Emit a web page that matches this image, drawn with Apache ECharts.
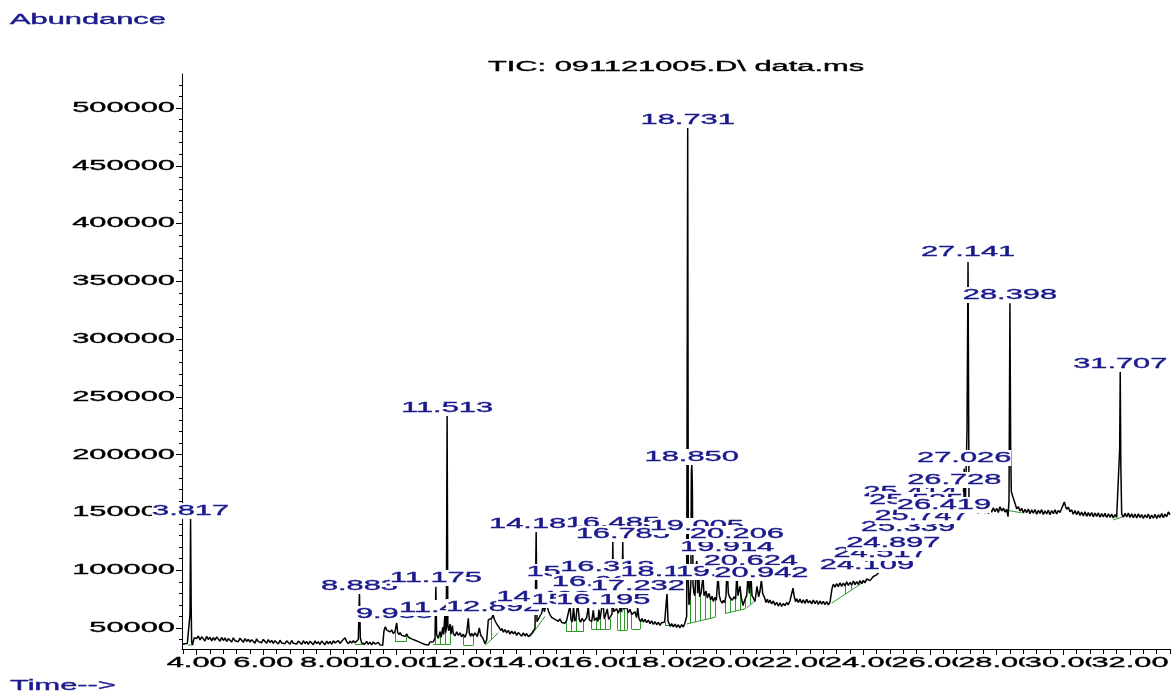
<!DOCTYPE html>
<html>
<head>
<meta charset="utf-8">
<script src="https://cdn.jsdelivr.net/npm/echarts@6/dist/echarts.min.js"></script>
<style>html,body{margin:0;padding:0;background:#fff}#chart{width:1175px;height:691px}</style>
</head>
<body>
<div id="chart"></div>
<script>
// ---------------- DATA ----------------
const titleText = 'TIC: 091121005.D\\ data.ms';
const yAxisName = 'Abundance';
const xAxisName = 'Time-->';

const xTickValues = [4, 6, 8, 10, 12, 14, 16, 18, 20, 22, 24, 26, 28, 30, 32];
const xTickLabels = ['4.00', '6.00', '8.00', '10.00', '12.00', '14.00', '16.00', '18.00', '20.00', '22.00', '24.00', '26.00', '28.00', '30.00', '32.00'];
const yTickValues = [50000, 100000, 150000, 200000, 250000, 300000, 350000, 400000, 450000, 500000];
const yTickLabels = ['50000', '100000', '150000', '200000', '250000', '300000', '350000', '400000', '450000', '500000'];

// total ion chromatogram [time (min), abundance]
const traceEarly = [
[3.56,35800],[3.60,34600],[3.64,36400],[3.68,35000],[3.72,36600],[3.76,34900],[3.78,36000],[3.80,62000],[3.817,145200],[3.835,70000],
[3.85,38000],[3.87,35400],[3.90,36800],[3.93,41500],[3.96,43000],
[4.00,40800],[4.05,43100],[4.10,39600],[4.15,42400],[4.20,40900],[4.25,38700],[4.30,42800],[4.35,40100],[4.40,42000],[4.45,38900],
[4.50,41700],[4.55,39400],[4.60,42300],[4.65,40600],[4.70,38500],[4.75,41900],[4.80,39200],[4.85,41400],[4.90,38300],[4.95,40800],
[5.00,39900],[5.05,37800],[5.10,41500],[5.15,39000],[5.20,40700],[5.25,38100],[5.30,41200],[5.35,39500],[5.40,37600],[5.45,40900],
[5.50,38400],[5.55,40200],[5.60,37900],[5.65,39800],[5.70,38800],[5.75,36900],[5.80,40600],[5.85,38200],[5.90,39700],[5.95,37300],
[6.00,40100],[6.05,38600],[6.10,36800],[6.15,39900],[6.20,37500],[6.25,39300],[6.30,36700],[6.35,39000],[6.40,37900],[6.45,36200],
[6.50,39400],[6.55,37100],[6.60,38800],[6.65,36400],[6.70,38900],[6.75,37600],[6.80,35900],[6.85,39200],[6.90,36800],[6.95,38500],
[7.00,36100],[7.05,38700],[7.10,37300],[7.15,35800],[7.20,39000],[7.25,36500],[7.30,38300],[7.35,35900],[7.40,38600],[7.45,37000],
[7.50,35600],[7.55,38900],[7.60,36400],[7.65,38200],[7.70,35700],[7.75,38800],[7.80,37200],[7.85,35500],[7.90,38600],[7.95,36300],
[8.00,38400],[8.05,35900],[8.10,38900],[8.15,37100],[8.20,35800],[8.25,39100],[8.30,36600],[8.35,38500],[8.40,37800],[8.45,41600],
[8.50,38200],[8.55,36400],[8.60,38700],[8.65,36900],[8.70,39000],[8.75,37200],[8.80,38400],[8.85,40000],[8.883,81200],[8.91,41500],
[8.95,37000],[9.00,38600],[9.05,36200],[9.10,38400],[9.15,35900],[9.20,37800],[9.25,35300],[9.30,38000],[9.35,36100],[9.40,34900],
[9.45,37500],[9.50,35400],[9.55,36800],[9.58,35000],[9.62,47600],[9.66,51000],[9.70,48200],[9.75,49600],[9.80,46600],[9.85,48400],
[9.90,45200],[9.95,47100],[10.0,54500],[10.03,46000],[10.07,44200],[10.10,46000],[10.15,43600],[10.20,45300],[10.25,42800],[10.30,44900],
[10.35,42000],[10.40,43500],[10.45,40600],[10.50,42300],[10.55,39400],[10.60,41000],[10.65,38200],[10.70,39800],[10.75,36900],[10.80,38600],
[10.85,35700],[10.90,37400],[10.95,35200],[11.00,37800]
];
const traceMid = [
[11.05,39500],[11.1,38000],[11.15,41200],[11.175,85700],[11.2,44000],[11.25,41000],[11.3,46800],[11.34,42000],[11.38,50500],[11.41,44500],
[11.447,62000],[11.47,46000],[11.49,50000],[11.513,234500],[11.535,52000],[11.56,47500],[11.6,53500],[11.63,44800],[11.67,52000],[11.7,45000],
[11.75,43200],[11.8,46800],[11.85,43600],[11.9,45800],[11.95,42400],[12.0,44600],[12.05,41900],[12.1,45800],[12.15,58400],[12.18,45200],
[12.22,42800],[12.25,45400],[12.3,43000],[12.35,45800],[12.42,42600],[12.48,50000],[12.52,43800],[12.58,41600],[12.65,36500],[12.7,39500],
[12.75,57000],[12.8,55600],[12.85,58400],[12.892,61500],[12.93,57600],[12.97,55200],[13.02,52600],[13.08,50200],[13.12,47800],[13.16,49600],
[13.20,46400],[13.25,48600],[13.30,45800],[13.35,48000],[13.40,44700],[13.45,47200],[13.50,45000],[13.55,46900],[13.60,43600],[13.65,46100],
[13.70,44400],[13.75,42900],[13.80,45800],[13.85,43100],[13.90,45200],[13.95,42500],[14.00,44000],[14.05,45200],[14.1,47600],[14.15,49500],
[14.185,133300],[14.21,55500],[14.25,57600],[14.3,60400],[14.35,62800],[14.402,70500],[14.43,64000],[14.48,70000],[14.52,67800],[14.56,64200],
[14.6,61400],[14.65,59200],[14.7,60600],[14.75,57400],[14.8,58800],[14.85,55800],[14.9,57800],[14.95,54800],[15.0,56200],[15.05,54200],
[15.1,56600],[15.15,57800],[15.2,69500],[15.23,57200],[15.27,55400],[15.306,68500],[15.34,56000],[15.38,58000],[15.42,69500],[15.451,66000],
[15.48,57000],[15.52,55000],[15.56,58400],[15.62,55800],[15.7,59000],[15.75,68600],[15.78,57000],[15.85,55800],[15.9,65400],[15.93,56400],
[16.0,58800],[16.04,55600],[16.068,66000],[16.1,57200],[16.15,67400],[16.195,70000],[16.23,57800],[16.28,56400],[16.318,66500],[16.36,57400],
[16.42,58600],[16.46,62000],[16.485,124500],[16.51,64000],[16.56,62400],[16.6,66600],[16.65,62800],[16.7,67200],[16.75,63800],[16.783,124500],
[16.81,66000],[16.86,64400],[16.9,68200],[16.95,63200],[17.0,66200],[17.05,61800],[17.1,60400],[17.15,64000],[17.2,59000],[17.232,67500],
[17.27,58000],[17.32,55600],[17.36,58200],[17.40,55000],[17.45,57400],[17.50,54600],[17.55,56900],[17.60,53800],[17.65,56200],[17.70,53200],
[17.75,55600],[17.80,52800],[17.85,55000],[17.90,52200],[17.95,54600],[18.00,52900],[18.04,55200],[18.08,54000],[18.11,80000],[18.14,56000],
[18.17,54000],[18.21,51400],[18.25,53800],[18.30,51000],[18.35,53400],[18.40,50600],[18.45,52800],[18.50,50200],[18.55,52900],[18.60,50800],
[18.65,54500],[18.7,60000]
];
const traceLate = [
[18.731,482700],[18.75,90000],[18.77,70000],[18.8,76000],[18.825,88000],[18.84,185000],[18.855,191000],[18.87,175000],[18.89,88000],[18.92,80000],
[18.95,78000],[18.98,104000],[19.005,108000],[19.03,80000],[19.06,100000],[19.09,77000],[19.13,80000],[19.19,95000],[19.22,78000],[19.28,82000],
[19.32,76000],[19.37,80000],[19.42,74500],[19.46,77500],[19.5,73000],[19.55,76500],[19.59,74000],[19.64,96000],[19.68,78000],[19.72,73500],
[19.77,71500],[19.8,74000],[19.84,72000],[19.88,78000],[19.914,105000],[19.95,80000],[19.99,76500],[20.03,78000],[20.07,74000],[20.12,77000],
[20.17,75000],[20.206,98000],[20.24,78000],[20.3,86000],[20.34,76000],[20.39,69500],[20.44,74000],[20.5,78000],[20.54,95000],[20.58,80000],
[20.624,98000],[20.66,78000],[20.7,76000],[20.75,73000],[20.81,86000],[20.86,77000],[20.9,82000],[20.942,92000],[20.98,80000],[21.04,76000],
[21.08,72000],[21.12,74800],[21.16,71600],[21.20,74200],[21.25,70800],[21.30,73400],[21.35,69800],[21.40,72200],[21.45,69000],[21.50,71800],
[21.55,68600],[21.60,71200],[21.65,69400],[21.70,72000],[21.75,70200],[21.80,73600],[21.85,72000],[21.89,84500],[21.93,76800],[21.97,72600],
[22.00,75400],[22.05,72000],[22.10,75000],[22.15,71600],[22.20,74400],[22.25,71200],[22.30,74800],[22.35,71800],[22.40,73600],[22.45,70800],
[22.50,74200],[22.55,71000],[22.60,73800],[22.65,70400],[22.70,73400],[22.75,70600],[22.80,73000],[22.85,70200],[22.90,72800],[22.95,70000],
[23.00,72400],[23.03,71000],[23.06,84000],[23.10,88000],[23.15,85400],[23.20,88400],[23.25,85800],[23.30,89200],[23.35,86000],[23.40,88800],
[23.45,86400],[23.50,90000],[23.55,86800],[23.60,89600],[23.65,87000],[23.70,90600],[23.75,87600],[23.80,90200],[23.85,87800],[23.90,91000],
[23.95,88400],[24.00,91200],[24.05,89000],[24.10,92400],[24.2,91000],[24.3,94600],[24.4,96000],[24.5,99000],[24.6,101000],[24.7,104500],
[24.8,106000],[24.9,110000],[25.0,113000],[25.1,116500],[25.2,119000],[25.3,122500],[25.4,126000],[25.5,129000],[25.6,132500],[25.7,135000],
[25.8,138000],[25.9,140000],[26.0,142500],[26.1,143500],[26.2,145500],[26.3,146000],[26.4,148000],[26.5,148400],[26.6,149600],[26.7,150200],
[26.8,151400],[26.9,150600],[26.99,152000],[27.026,188000],[27.06,156000],[27.11,220000],[27.141,366700],[27.17,162000],[27.2,153000],[27.25,150400],
[27.3,153200],[27.35,149800],[27.4,152600],[27.45,149400],[27.5,152800],[27.55,150000],[27.6,153400],[27.65,149600],[27.7,152200],[27.75,149200],
[27.8,153000],[27.85,150200],[27.9,154000],[27.95,150600],[28.0,153600],[28.05,150000],[28.1,155000],[28.15,151200],[28.2,153800],[28.25,150400],
[28.3,152600],[28.34,146400],[28.37,160000],[28.398,331000],[28.42,205000],[28.44,168000],[28.48,164000],[28.52,160500],[28.56,157000],[28.6,153200],
[28.65,155000],[28.7,151200],[28.75,153600],[28.8,149600],[28.85,152800],[28.9,149800],[28.95,153000],[29.0,148800],[29.05,152200],[29.1,149400],
[29.15,152600],[29.2,148400],[29.25,151800],[29.3,149200],[29.35,152400],[29.4,148200],[29.45,151400],[29.5,148800],[29.55,152000],[29.6,148000],
[29.65,151600],[29.7,149000],[29.75,152200],[29.8,148600],[29.85,151800],[29.9,150000],[29.95,153400],[30.0,157000],[30.03,159000],[30.07,155000],
[30.1,152800],[30.15,154600],[30.2,150600],[30.25,152400],[30.3,148400],[30.35,151600],[30.4,148000],[30.45,151200],[30.5,147400],[30.55,150400],
[30.6,147000],[30.65,150600],[30.7,146600],[30.75,149800],[30.8,146800],[30.85,150000],[30.9,146200],[30.95,149400],[31.0,146600],[31.05,149600],
[31.1,145800],[31.15,149000],[31.2,146200],[31.25,149200],[31.3,145600],[31.35,148800],[31.4,145800],[31.45,148600],[31.5,145200],[31.55,148200],
[31.6,145800],[31.66,146600],[31.69,205000],[31.707,271800],[31.725,190000],[31.75,149000],[31.8,145800],[31.85,149200],[31.9,146000],[31.95,149400],
[32.0,145600],[32.05,148800],[32.1,145400],[32.15,148600],[32.2,145200],[32.25,148800],[32.3,145600],[32.35,148200],[32.4,144800],[32.45,148000],
[32.5,145400],[32.55,148600],[32.6,144600],[32.65,147800],[32.7,145000],[32.75,148400],[32.8,144800],[32.85,148000],[32.9,145600],[32.95,149000],
[33.0,145400],[33.05,148600],[33.1,146200],[33.15,150400],[33.2,148000]
];

// integration baselines [t1, v1, t2, v2]
const baselineSegments = [
[3.74,35000,3.92,35600],[8.75,35600,9.05,35600],[9.95,38500,10.3,38500],[11.1,35800,11.62,35800],[12.0,35400,12.3,35400],
[12.65,34800,13.05,45800],[14.0,42200,14.45,60000],[15.1,46800,15.6,46800],[15.85,48800,16.4,48800],[16.62,48400,16.92,48400],
[17.05,49000,17.3,49000],[18.05,52000,18.4,52000],[18.7,53500,19.55,59300],[19.85,62500,20.45,66600],[20.5,67500,20.75,73300],
[23.05,71500,24.15,92500],[28.1,153000,28.75,149600],[31.5,143500,31.8,146500]
];
// peak drop lines [t, baseline, t, trace]
const dropLines = [
[9.95,38500,9.95,46800],[10.3,38500,10.3,44800],[11.15,35800,11.15,41200],[11.3,35800,11.3,46800],[11.45,35800,11.45,48000],[11.62,35800,11.62,46000],
[12.0,35400,12.0,44600],[12.3,35400,12.3,43000],[12.85,40300,12.85,58400],
[15.1,46800,15.1,56600],[15.25,46800,15.25,56000],[15.4,46800,15.4,58000],[15.6,46800,15.6,56000],
[15.85,48800,15.85,55800],[16.0,48800,16.0,58800],[16.1,48800,16.1,57200],[16.25,48800,16.25,57800],[16.4,48800,16.4,58000],
[16.62,48400,16.62,64000],[16.72,48400,16.72,65000],[16.82,48400,16.82,65500],[16.92,48400,16.92,66000],
[17.05,49000,17.05,61800],[17.3,49000,17.3,57000],[18.05,52000,18.05,55000],[18.2,52000,18.2,52000],[18.4,52000,18.4,50600],
[18.8,54200,18.8,76000],[18.95,55200,18.95,78000],[19.1,56200,19.1,77500],[19.25,57300,19.25,80000],[19.4,58300,19.4,75500],[19.55,59300,19.55,76500],
[19.85,62500,19.85,73000],[20.0,63500,20.0,77000],[20.15,64500,20.15,76000],[20.3,65500,20.3,86000],[20.45,66600,20.45,75000],
[20.62,70300,20.62,90000],[23.45,79500,23.45,86400],[23.65,83300,23.65,87000],[23.85,87100,23.85,87800]
];

// peak retention-time labels: centre time, label height (abundance units), text
const peakLabelTime = [3.817, 8.883, 9.933, 11.175, 11.447, 11.513, 12.892, 14.185, 14.402, 15.306, 15.451, 16.068, 16.195, 16.318, 16.485, 16.783, 17.232, 18.127, 18.731, 18.850,
  19.005, 19.783, 19.914, 20.206, 20.624, 20.942, 24.109, 24.517, 24.897, 25.339, 25.414, 25.585, 25.747, 26.419, 26.728, 27.026, 27.141, 28.398, 31.707];
const peakLabelLevel = [151250, 86350, 62100, 93270, 67300, 240400, 68170, 140000, 76830, 98460, 74230, 89810, 74230, 102790, 140870, 131350, 86350, 98460, 489600, 198000,
  138300, 98460, 120100, 131350, 107980, 97600, 104520, 114900, 123560, 137400, 167700, 160770, 146920, 156440, 178080, 197120, 375390, 338180, 278470];
const peakLabelText = ['3.817', '8.883', '9.933', '11.175', '11.447', '11.513', '12.892', '14.185', '14.402', '15.306', '15.451', '16.068', '16.195', '16.318', '16.485', '16.783', '17.232', '18.127', '18.731', '18.850',
  '19.005', '19.783', '19.914', '20.206', '20.624', '20.942', '24.109', '24.517', '24.897', '25.339', '25.414', '25.585', '25.747', '26.419', '26.728', '27.026', '27.141', '28.398', '31.707'];

// ---------------- CHART ----------------
const X_MIN = 3.56, X_MAX = 33.2, Y_MIN = 31830, Y_MAX = 529400;
const FONT_FAMILY = '"Liberation Sans", Arial, sans-serif';
const FONT_SIZE = 14;
const STRETCH = 2.2;
const BLUE = '#1a1a8c';

const xMinorTicks = [];
for (let k = 0; k <= 74; k++) {
  const t = Math.round((3.6 + 0.4 * k) * 10) / 10;
  if (t > X_MAX + 1e-9) break;
  if (Math.abs(t / 2 - Math.round(t / 2)) > 1e-6) xMinorTicks.push(t);
}
const yMinorTicks = [];
for (let v = 40000; v <= 520000; v += 10000) if (v % 50000 !== 0) yMinorTicks.push(v);

const tracePoints = traceEarly.concat(traceMid, traceLate);
const greenData = baselineSegments.concat(dropLines).map(s => ({ coords: [[s[0], s[1]], [s[2], s[3]]] }));

function stretchedText(x, y, text, color, align, vAlign, bg, order) {
  const style = { text: text, fill: color, fontSize: FONT_SIZE, fontFamily: FONT_FAMILY, align: align, verticalAlign: vAlign,
    stroke: color, lineWidth: 0.35 };
  if (bg) { style.backgroundColor = '#fff'; style.padding = [1, 0, 1, 0]; }
  return { type: 'text', x: x, y: y, scaleX: STRETCH, scaleY: 1, z2: order, style: style };
}

const chart = echarts.init(document.getElementById('chart'), null, { renderer: 'canvas' });
const axisCommon = { type: 'value', min: X_MIN, max: X_MAX, splitLine: { show: false }, axisLabel: { show: false } };
chart.setOption({
  animation: false,
  backgroundColor: '#fff',
  grid: { left: 182, right: 5, top: 74, bottom: 42, containLabel: false },
  xAxis: [
    Object.assign({}, axisCommon, { position: 'bottom', axisLine: { show: true, lineStyle: { color: '#000', width: 1 } },
      axisTick: { show: true, customValues: xTickValues, length: 9, lineStyle: { color: '#000', width: 1 } } }),
    Object.assign({}, axisCommon, { position: 'bottom', axisLine: { show: false },
      axisTick: { show: true, customValues: xMinorTicks, length: 5, lineStyle: { color: '#000', width: 1 } } })
  ],
  yAxis: [
    { type: 'value', min: Y_MIN, max: Y_MAX, position: 'left', splitLine: { show: false }, axisLabel: { show: false },
      axisLine: { show: true, lineStyle: { color: '#000', width: 1 } },
      axisTick: { show: true, customValues: yTickValues, length: 6, lineStyle: { color: '#000', width: 1 } } },
    { type: 'value', min: Y_MIN, max: Y_MAX, position: 'left', splitLine: { show: false }, axisLabel: { show: false },
      axisLine: { show: false },
      axisTick: { show: true, customValues: yMinorTicks, length: 3, lineStyle: { color: '#000', width: 1 } } }
  ],
  graphic: [
    stretchedText(10, 20, yAxisName, BLUE, 'left', 'middle', false, 0),
    stretchedText(676, 67, titleText, '#000', 'center', 'middle', false, 0),
    stretchedText(10, 686, xAxisName, BLUE, 'left', 'middle', false, 0)
  ],
  series: [
    { type: 'lines', coordinateSystem: 'cartesian2d', xAxisIndex: 0, yAxisIndex: 0, data: greenData,
      lineStyle: { color: '#2a9a2a', width: 1, opacity: 1 }, z: 2, silent: true, animation: false },
    { type: 'line', xAxisIndex: 0, yAxisIndex: 0, data: tracePoints, showSymbol: false, symbol: 'none',
      lineStyle: { color: '#000', width: 1.5 }, z: 3, silent: true, animation: false },
    { type: 'custom', xAxisIndex: 0, yAxisIndex: 0, clip: false, silent: true, z: 5,
      data: yTickValues.map(v => [X_MIN, v]),
      renderItem: (params, api) => {
        const p = api.coord([api.value(0), api.value(1)]);
        return stretchedText(p[0] - 7, p[1], yTickLabels[params.dataIndex], '#000', 'right', 'middle', false, params.dataIndex);
      } },
    { type: 'custom', xAxisIndex: 0, yAxisIndex: 0, clip: false, silent: true, z: 5,
      data: xTickValues.map(t => [t, Y_MIN]),
      renderItem: (params, api) => {
        const p = api.coord([api.value(0), api.value(1)]);
        return stretchedText(p[0], p[1] + 14, xTickLabels[params.dataIndex], '#000', 'center', 'middle', true, params.dataIndex);
      } },
    { type: 'custom', xAxisIndex: 0, yAxisIndex: 0, clip: false, silent: true, z: 10,
      data: peakLabelTime.map((t, i) => [t, peakLabelLevel[i]]),
      renderItem: (params, api) => {
        const p = api.coord([api.value(0), api.value(1)]);
        return stretchedText(p[0], p[1], peakLabelText[params.dataIndex], BLUE, 'center', 'middle', true, params.dataIndex);
      } }
  ]
});
</script>
</body>
</html>
